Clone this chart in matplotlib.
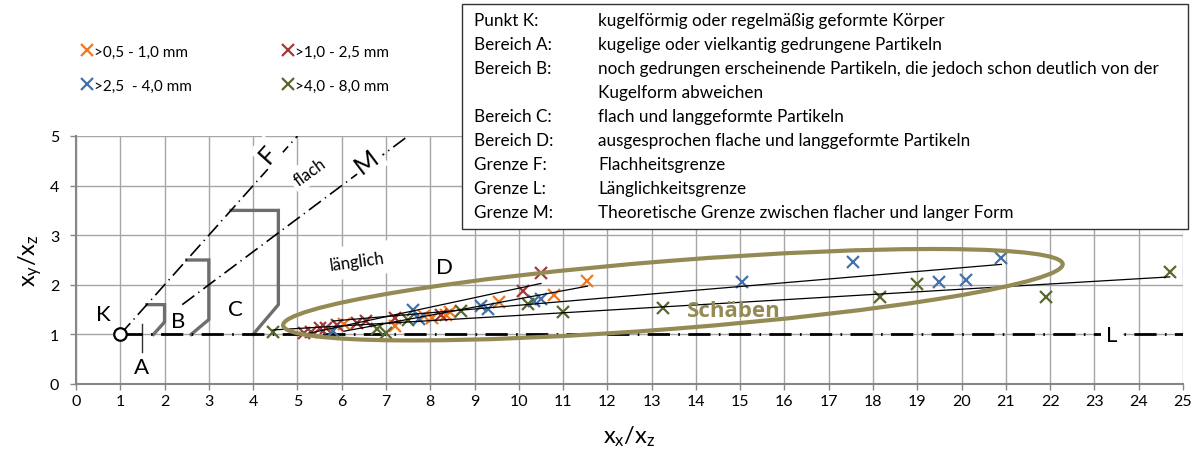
import numpy as np
import matplotlib
matplotlib.use("Agg")
import matplotlib.pyplot as plt
from matplotlib.patches import Ellipse, Rectangle
from matplotlib.transforms import ScaledTranslation

plt.rcParams['font.family'] = ['Lato', 'DejaVu Sans']

# Messwerte je Kornklasse (x_x/x_z, x_y/x_z)
labels = [">0,5 - 1,0 mm", ">1,0 - 2,5 mm", ">2,5  - 4,0 mm", ">4,0 - 8,0 mm"]
colors = ['#F0781E', '#A23B3A', '#4472A8', '#58692C']

x_05 = [6.05, 7.2, 7.85, 8.05, 8.35, 8.45, 9.55, 10.8, 11.55]
y_05 = [1.2, 1.17, 1.37, 1.33, 1.4, 1.45, 1.65, 1.8, 2.07]

x_10 = [5.15, 5.3, 5.5, 5.65, 5.9, 6.35, 6.55, 7.2, 8.25, 10.1, 10.5]
y_10 = [1.02, 1.05, 1.12, 1.12, 1.18, 1.22, 1.28, 1.33, 1.4, 1.87, 2.23]

x_25 = [5.8, 7.6, 7.75, 9.15, 9.3, 10.35, 10.5, 15.05, 17.55, 19.5, 20.1, 20.9]
y_25 = [1.07, 1.5, 1.32, 1.58, 1.52, 1.68, 1.72, 2.05, 2.45, 2.05, 2.1, 2.55]

x_40 = [4.45, 6.8, 7.0, 7.5, 8.7, 10.2, 11.0, 13.25, 18.15, 19.0, 21.9, 24.7]
y_40 = [1.05, 1.1, 1.02, 1.3, 1.48, 1.62, 1.45, 1.53, 1.75, 2.02, 1.75, 2.25]

series_x = [x_05, x_10, x_25, x_40]
series_y = [y_05, y_10, y_25, y_40]

# Grenzlinien
f_x = [1, 5]
f_y = [1, 5]
m_x = [2.4, 7.5]
m_y = [1.6, 5.0]
l_x = [1, 25]
l_y = [1, 1]

# Bereichsgrenzen A, B, C
a_x = [1.6, 2.0, 2.0, 1.75]
a_y = [1.6, 1.6, 1.25, 1.0]
b_x = [2.5, 3.0, 3.0, 2.6]
b_y = [2.5, 2.5, 1.3, 1.0]
c_x = [3.5, 4.57, 4.57, 4.0]
c_y = [3.5, 3.5, 1.6, 1.0]
a_mark_x = [1.5, 1.5]
a_mark_y = [0.65, 1.2]

legend_rows = [
    ("Punkt K:", "kugelförmig oder regelmäßig geformte Körper"),
    ("Bereich A:", "kugelige oder vielkantig gedrungene Partikeln"),
    ("Bereich B:", "noch gedrungen erscheinende Partikeln, die jedoch schon deutlich von der"),
    ("", "Kugelform abweichen"),
    ("Bereich C:", "flach und langgeformte Partikeln"),
    ("Bereich D:", "ausgesprochen flache und langgeformte Partikeln"),
    ("Grenze F:", "Flachheitsgrenze"),
    ("Grenze L:", "Länglichkeitsgrenze"),
    ("Grenze M:", "Theoretische Grenze zwischen flacher und langer Form"),
]

W, H = 1195, 456
fig = plt.figure(figsize=(W / 100, H / 100), dpi=100)
ax = fig.add_axes([76 / W, 1 - 385 / H, (1183 - 76) / W, (385 - 137) / H])

ax.set_xlim(0, 25)
ax.set_ylim(0, 5)
ax.set_xticks(range(0, 26))
ax.set_yticks(range(0, 6))
ax.grid(True, color='#A6A6A6', lw=1.0)
ax.set_axisbelow(True)
for s in ['top', 'right']:
    ax.spines[s].set_visible(False)
for s in ['left', 'bottom']:
    ax.spines[s].set_color('#868686')
    ax.spines[s].set_linewidth(1.5)
ax.tick_params(axis='both', colors='#868686', labelcolor='black', labelsize=11.5, length=4, width=1)
ax.tick_params(axis='y', pad=8)
ax.set_xlabel(r'$\mathregular{x_x/x_z}$', fontsize=17, labelpad=11)
ax.set_ylabel(r'$\mathregular{x_y/x_z}$', fontsize=17, labelpad=4)

# Bereichsgrenzen
for bx, by in [(a_x, a_y), (b_x, b_y), (c_x, c_y)]:
    ax.plot(bx, by, color='#6E6E6E', lw=2.4, solid_joinstyle='miter', zorder=2)
ax.plot(a_mark_x, a_mark_y, color='#333333', lw=1.0, zorder=2)

# Grenzen F, M, L
ax.plot(f_x, f_y, color='black', lw=1.2, dashes=(9, 3, 0.8, 3), zorder=2)
ax.plot(m_x, m_y, color='black', lw=1.2, dashes=(9, 3, 0.8, 3), zorder=2)
ax.plot(l_x, l_y, color='black', lw=2.0, dashes=(8, 3, 0.6, 3), zorder=2)
ax.plot([1], [1], 'o', ms=9, mfc='white', mec='black', mew=1.6, zorder=6)

# Messpunkte und lineare Trendlinien
for xs, ys, col, lab in zip(series_x, series_y, colors, labels):
    ax.plot(xs, ys, 'x', color=col, ms=9, mew=1.6, zorder=4, label=lab)
for xs, ys in zip(series_x, series_y):
    k, d = np.polyfit(xs, ys, 1)
    tx = np.array([min(xs), max(xs)])
    ax.plot(tx, k * tx + d, color='black', lw=0.9, zorder=5)

# Ellipse um die Schäben (Maße in Zoll, Mittelpunkt in Datenkoordinaten)
ell = Ellipse((0, 0), width=7.82, height=0.68, angle=4.5, fill=False,
              ec='#948A54', lw=3.0, zorder=5,
              transform=fig.dpi_scale_trans + ScaledTranslation(13.48, 1.80, ax.transData))
ax.add_patch(ell)
ax.text(14.85, 1.49, 'Schäben', color='#948A54', fontsize=16, fontweight='bold',
        family=['Open Sans', 'DejaVu Sans'], ha='center', va='center', zorder=6)

# Beschriftungen im Diagramm
wb = dict(facecolor='white', edgecolor='none', pad=3)
ax.text(4.33, 4.64, 'F', fontsize=18, rotation=48, ha='center', va='center', bbox=wb, zorder=3)
ax.text(5.28, 4.29, 'flach', fontsize=12, rotation=36, ha='center', va='center', bbox=wb, zorder=3)
ax.text(6.57, 4.5, 'M', fontsize=18, rotation=37, ha='center', va='center', bbox=wb, zorder=3)
ax.text(6.34, 2.48, 'länglich', fontsize=12, rotation=8, ha='center', va='center',
        bbox=dict(facecolor='white', edgecolor='none', pad=6), zorder=3)
ax.text(23.4, 0.98, 'L', fontsize=16, ha='center', va='center',
        bbox=dict(facecolor='white', edgecolor='none', pad=4), zorder=3)
for txt, tx, ty in [('K', 0.61, 1.41), ('A', 1.49, 0.34), ('B', 2.3, 1.27),
                    ('C', 3.59, 1.51), ('D', 8.33, 2.36)]:
    ax.text(tx, ty, txt, fontsize=16, ha='center', va='center', zorder=3)

# Legende der Kornklassen
handles, labs = ax.get_legend_handles_labels()
order = [0, 2, 1, 3]
fig.legend([handles[i] for i in order], [labs[i] for i in order], ncol=2,
           loc='upper left', bbox_to_anchor=(69 / W, 1 - 32 / H), frameon=False,
           fontsize=11, handlelength=0.6, handletextpad=0.15,
           columnspacing=6.0, labelspacing=1.3)

# Erläuterungskasten
fig.add_artist(Rectangle((462 / W, 1 - 230 / H), (1188 - 462) / W, (230 - 5) / H,
                         transform=fig.transFigure, facecolor='white',
                         edgecolor='#333333', lw=1.0, zorder=5))
for i, (lab, desc) in enumerate(legend_rows):
    yy = 1 - (21 + i * 24) / H
    fig.text(474 / W, yy, lab, fontsize=12.3, va='center', zorder=6)
    fig.text(598 / W, yy, desc, fontsize=12.3, va='center', zorder=6)

fig.savefig('out.png', dpi=100)
